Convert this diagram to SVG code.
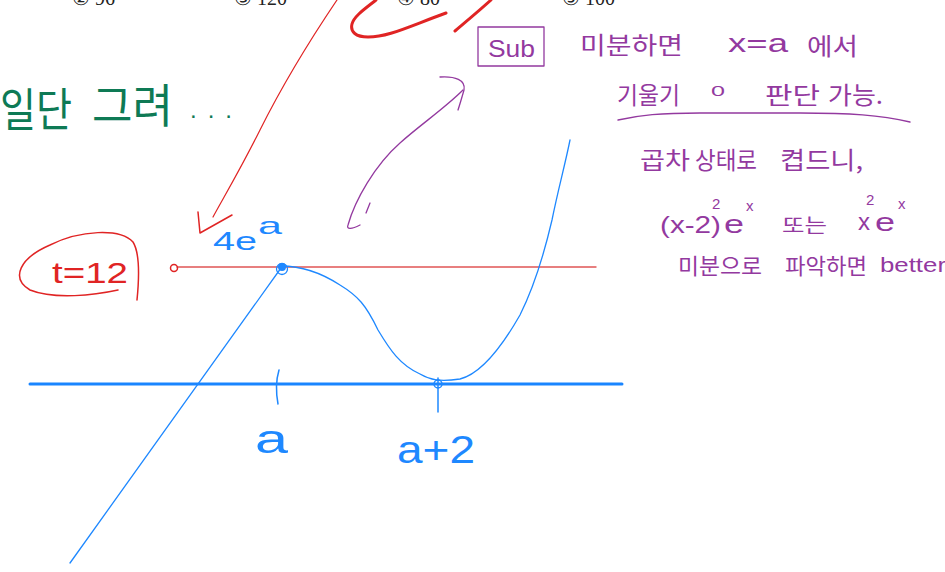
<svg xmlns="http://www.w3.org/2000/svg" width="945" height="572" viewBox="0 0 945 572">
<style>
.ko{font-family:"Noto Sans CJK KR","Noto Sans",sans-serif}
.la{font-family:"Liberation Sans","DejaVu Sans",sans-serif}
.top{font-family:"Liberation Serif","DejaVu Serif",serif;font-size:20px;fill:#222}
.pu{fill:#93399f}
.bl{fill:#1e88ff}
.rd{fill:#e02424}
.gr{fill:#0e7a55}
.s{fill:none;stroke-linecap:round;stroke-linejoin:round}
.sr{stroke:#e02424}
.sb{stroke:#1e88ff}
.sp{stroke:#93399f}
</style>
<rect width="945" height="572" fill="#fff"/>
<g id="choices">
<text class="top" x="72" y="5">② 96</text>
<text class="top" x="234" y="5">③ 120</text>
<text class="top" x="397" y="5">④ 80</text>
<text class="top" x="562" y="5">⑤ 100</text>
</g>
<g id="red-marks">
<path class="s sr" stroke-width="3" d="M376,0 C366,8 354,16 352,24 C350,32 356,37 368,37 C388,37 405,28 446,13"/>
<path class="s sr" stroke-width="3" d="M455,31 C468,20 480,10 491,0"/>
<path class="s sr" stroke-width="1.2" d="M337,0 C310,40 280,90 260,130 C240,170 225,195 213,217"/>
<path class="s sr" stroke-width="1.5" d="M198,212 L200,233 L232,215"/>
<line class="s" stroke="#e05555" stroke-width="1.4" x1="177" y1="267" x2="596" y2="267"/>
<circle class="s sr" stroke-width="1.5" cx="174" cy="268" r="3.5"/>
<path class="s sr" stroke-width="1.5" d="M137,300 C140,270 138,250 133,242 C120,228 80,230 50,245 C20,258 10,278 30,290 C55,300 95,295 118,290"/>
<text class="la rd" x="52" y="283" font-size="30" textLength="76" lengthAdjust="spacingAndGlyphs">t=12</text>
</g>
<g id="graph">
<line class="s" stroke="#1a85ff" stroke-width="3" x1="30" y1="384" x2="622" y2="384"/>
<path class="s sb" stroke-width="1.5" d="M279,370 C276,380 276,393 278,404"/>
<path class="s sb" stroke-width="1.5" d="M438,378 L438,412"/>
<circle class="s sb" stroke-width="1.5" cx="438" cy="384" r="4"/>
<path class="s sb" stroke-width="1.3" d="M70,563 L281,268"/>
<path class="s sb" stroke-width="1.3" d="M281,266 C300,266 320,272 340,285 C358,296 366,305 378,330 C390,350 400,365 420,374 C430,380 440,382 460,379 C480,374 500,350 520,315 C535,285 545,250 552,220 C558,190 565,165 570,140"/>
<circle fill="#1e88ff" cx="282" cy="267" r="4"/>
<circle class="s sb" stroke-width="1.3" cx="282" cy="269" r="5.5"/>
<text class="la bl" x="213" y="250" font-size="26" textLength="44" lengthAdjust="spacingAndGlyphs">4e</text>
<text class="la bl" x="258" y="234" font-size="24" textLength="24" lengthAdjust="spacingAndGlyphs">a</text>
<text class="la bl" x="255" y="453" font-size="40" textLength="33" lengthAdjust="spacingAndGlyphs">a</text>
<text class="la bl" x="397" y="463" font-size="38" textLength="78" lengthAdjust="spacingAndGlyphs">a+2</text>
</g>
<g id="note-green">
<text class="ko gr" x="0" y="126" font-size="46" textLength="72" lengthAdjust="spacingAndGlyphs">일단</text>
<text class="ko gr" x="92" y="122" font-size="46" textLength="81" lengthAdjust="spacingAndGlyphs">그려</text>
<text class="la gr" x="190" y="118" font-size="24" textLength="42" lengthAdjust="spacing">...</text>
</g>
<g id="sub">
<rect class="s sp" stroke-width="1.3" x="478" y="27" width="66" height="39"/>
<text class="la pu" x="488" y="57" font-size="24" textLength="47" lengthAdjust="spacingAndGlyphs">Sub</text>
</g>
<g id="connectors">
<path class="s sp" stroke-width="1.3" d="M360,225 C352,229 346,230 348,225 C355,200 375,165 400,143 C420,125 445,108 463,90"/>
<path class="s sp" stroke-width="1.3" d="M440,77 C455,76 466,80 464,90 C462,97 460,104 458,110"/>
<path class="s sp" stroke-width="1.3" d="M370,203 L366,213"/>
</g>
<g id="note-purple">
<text class="ko pu" x="580" y="54" font-size="24" textLength="103" lengthAdjust="spacingAndGlyphs">미분하면</text>
<text class="la pu" x="728" y="52" font-size="26" textLength="60" lengthAdjust="spacingAndGlyphs">x=a</text>
<text class="ko pu" x="807" y="55" font-size="24" textLength="51" lengthAdjust="spacingAndGlyphs">에서</text>
<text class="ko pu" x="617" y="104" font-size="24" textLength="63" lengthAdjust="spacingAndGlyphs">기울기</text>
<text class="la pu" x="711" y="96" font-size="14" textLength="14" lengthAdjust="spacingAndGlyphs">0</text>
<text class="ko pu" x="765" y="104" font-size="24" textLength="55" lengthAdjust="spacingAndGlyphs">판단</text>
<text class="ko pu" x="828" y="104" font-size="24" textLength="55" lengthAdjust="spacingAndGlyphs">가능.</text>
<path class="s sp" stroke-width="1.3" d="M618,120 C640,115 660,113 700,113 L800,113 C850,113 880,115 910,122"/>
<text class="ko pu" x="640" y="169" font-size="24" textLength="50" lengthAdjust="spacingAndGlyphs">곱차</text>
<text class="ko pu" x="695" y="169" font-size="24" textLength="62" lengthAdjust="spacingAndGlyphs">상태로</text>
<text class="ko pu" x="780" y="169" font-size="24" textLength="83" lengthAdjust="spacingAndGlyphs">켭드니,</text>
<text class="la pu" x="660" y="233" font-size="24" textLength="61" lengthAdjust="spacingAndGlyphs">(x-2)</text>
<text class="la pu" x="712" y="209" font-size="15">2</text>
<text class="la pu" x="724" y="233" font-size="26" textLength="20" lengthAdjust="spacingAndGlyphs">e</text>
<text class="la pu" x="746" y="211" font-size="15">x</text>
<text class="ko pu" x="782" y="233" font-size="20" textLength="45" lengthAdjust="spacingAndGlyphs">또는</text>
<text class="la pu" x="858" y="230" font-size="24">x</text>
<text class="la pu" x="866" y="205" font-size="15">2</text>
<text class="la pu" x="875" y="231" font-size="26" textLength="20" lengthAdjust="spacingAndGlyphs">e</text>
<text class="la pu" x="898" y="209" font-size="15">x</text>
<text class="ko pu" x="678" y="274" font-size="22" textLength="84" lengthAdjust="spacingAndGlyphs">미분으로</text>
<text class="ko pu" x="785" y="274" font-size="22" textLength="82" lengthAdjust="spacingAndGlyphs">파악하면</text>
<text class="la pu" x="880" y="272" font-size="20" textLength="66" lengthAdjust="spacingAndGlyphs">better</text>
</g>
</svg>
